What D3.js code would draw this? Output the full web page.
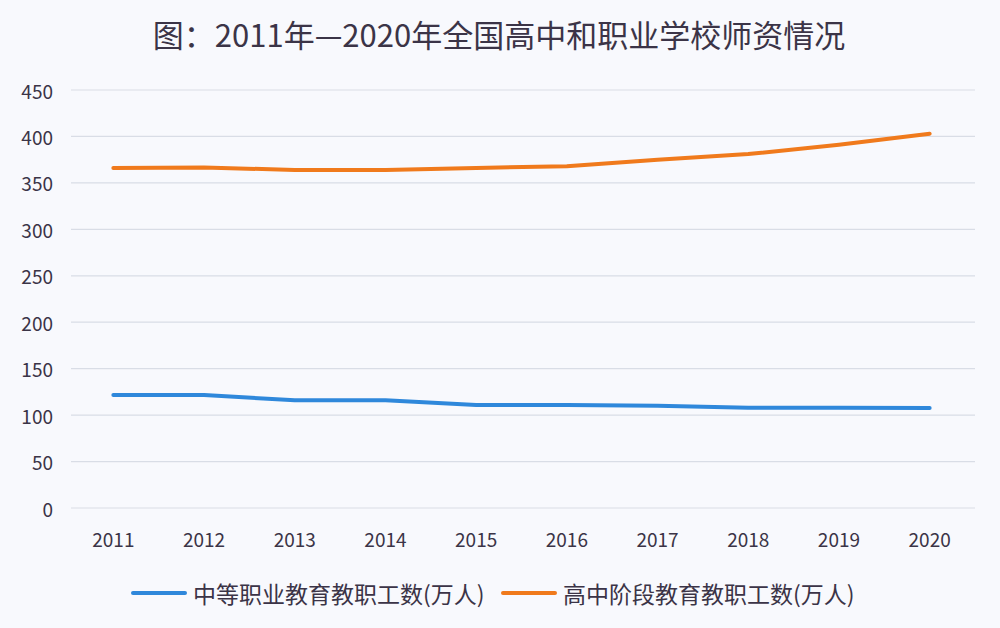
<!DOCTYPE html>
<html>
<head>
<meta charset="utf-8">
<script src="https://cdn.jsdelivr.net/npm/d3@7"></script>
<style>
  body { margin: 0; background: #f8f9fd; }
  svg { display: block; }
</style>
</head>
<body>
<div id="chart"></div>
<script>
var years = ["2011", "2012", "2013", "2014", "2015", "2016", "2017", "2018", "2019", "2020"];
var vocational = [121.6, 121.6, 116, 116, 111, 111, 110, 108, 108, 107.6];
var highSchool = [366, 366.5, 364, 364, 366, 368, 375, 381, 391, 403];
var seriesNames = ["中等职业教育教职工数(万人)", "高中阶段教育教职工数(万人)"];
var yTicks = [0, 50, 100, 150, 200, 250, 300, 350, 400, 450];

var colors = ["#2f88db", "#f07a1c"];
var textColor = "#3b3447";
var W = 1000, H = 628;

var svg = d3.select("#chart").append("svg")
  .attr("width", W)
  .attr("height", H)
  .style("font-family", "'Noto Sans CJK SC', 'Noto Sans', sans-serif");

svg.append("rect").attr("width", W).attr("height", H).attr("fill", "#f8f9fd");

// title
svg.append("text")
  .attr("x", 499).attr("y", 47)
  .attr("text-anchor", "middle")
  .style("font-size", "31px")
  .style("fill", textColor)
  .text("图：2011年—2020年全国高中和职业学校师资情况");

var x = d3.scaleBand().domain(years).range([68, 975]);
var y = d3.scaleLinear().domain([0, 450]).range([508, 90]);

// gridlines
svg.append("g")
  .selectAll("line")
  .data(yTicks)
  .enter().append("line")
  .attr("x1", 71).attr("x2", 975)
  .attr("y1", d => y(d)).attr("y2", d => y(d))
  .style("stroke", "#d9dde6")
  .style("stroke-width", 1.2);

// y labels
svg.append("g")
  .selectAll("text")
  .data(yTicks)
  .enter().append("text")
  .attr("x", 53).attr("y", d => y(d))
  .attr("text-anchor", "end")
  .attr("dominant-baseline", "central")
  .style("font-size", "19px")
  .style("fill", textColor)
  .text(d => d);

// x labels
svg.append("g")
  .selectAll("text")
  .data(years)
  .enter().append("text")
  .attr("x", d => x(d) + x.bandwidth() / 2)
  .attr("y", 538)
  .attr("text-anchor", "middle")
  .attr("dominant-baseline", "central")
  .style("font-size", "19px")
  .style("fill", textColor)
  .text(d => d);

var line = d3.line()
  .x((d, i) => x(years[i]) + x.bandwidth() / 2)
  .y(d => y(d));

[vocational, highSchool].forEach(function (s, k) {
  svg.append("path")
    .datum(s)
    .attr("d", line)
    .style("fill", "none")
    .style("stroke", colors[k])
    .style("stroke-width", 4)
    .style("stroke-linecap", "round")
    .style("stroke-linejoin", "round");
});

// legend
var legendX = [133, 503];
for (var t = 0; t < 2; t++) {
  svg.append("line")
    .attr("x1", legendX[t]).attr("x2", legendX[t] + 52)
    .attr("y1", 593).attr("y2", 593)
    .style("stroke", colors[t])
    .style("stroke-width", 4)
    .style("stroke-linecap", "round");
  svg.append("text")
    .attr("x", legendX[t] + 60).attr("y", 593)
    .attr("dominant-baseline", "central")
    .style("font-size", "23px")
    .style("fill", textColor)
    .text(seriesNames[t]);
}
</script>
</body>
</html>
